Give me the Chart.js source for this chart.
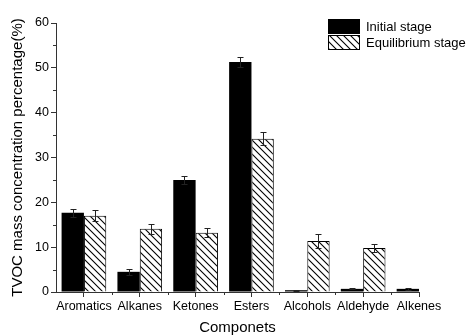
<!DOCTYPE html>
<html>
<head>
<meta charset="utf-8">
<script src="https://cdn.jsdelivr.net/npm/chart.js@4"></script>
<style>
  html, body { margin: 0; padding: 0; background: #fff; }
  #wrap { width: 475px; height: 335px; position: relative; }
</style>
</head>
<body>
<div id="wrap"><canvas id="tvocChart"></canvas></div>
<script>
// ======================================
// DATA
// ======================================
const categories = ['Aromatics', 'Alkanes', 'Ketones', 'Esters', 'Alcohols', 'Aldehyde', 'Alkenes'];
const initialValues = [17.7, 4.5, 25.0, 51.3, 0.4, 0.7, 0.7];
const initialErrors = [0.9, 0.7, 0.9, 1.2, 0.1, 0.1, 0.3];
const equilibriumValues = [17.0, 14.1, 13.2, 34.2, 11.4, 9.8, null];
const equilibriumErrors = [1.2, 1.1, 1.0, 1.5, 1.6, 0.9, 0];
const yTickValues = [0, 10, 20, 30, 40, 50, 60];

// ======================================
// HELPERS
// ======================================
function makeHatch() {
    const size = 7;
    const c = document.createElement('canvas');
    c.width = size; c.height = size;
    const g = c.getContext('2d');
    g.fillStyle = '#fff'; g.fillRect(0, 0, size, size);
    g.strokeStyle = '#000'; g.lineWidth = 1.1;
    g.beginPath();
    g.moveTo(-1, -1); g.lineTo(size + 1, size + 1);
    g.moveTo(-1, size - 1); g.lineTo(1, size + 1);
    g.moveTo(size - 1, -1); g.lineTo(size + 1, 1);
    g.stroke();
    return g.createPattern(c, 'repeat');
}
function toPoints(values) {
    return values.map((v, i) => ({ x: i, y: v }));
}

const hatch = makeHatch();
const axisColor = '#333';
const fontFamily = '"Liberation Sans", Arial, sans-serif';

// error bars
const errorBarPlugin = {
    id: 'errorBars',
    afterDatasetsDraw(chart) {
        const ctx = chart.ctx;
        const yScale = chart.scales.y;
        const errs = [initialErrors, equilibriumErrors];
        ctx.save();
        ctx.strokeStyle = '#222';
        ctx.lineWidth = 1;
        chart.data.datasets.forEach((ds, di) => {
            const meta = chart.getDatasetMeta(di);
            meta.data.forEach((bar, i) => {
                const v = ds.data[i].y;
                const e = errs[di][i];
                if (v == null || !e) return;
                const x = Math.round(bar.x) + 0.5;
                const yTop = Math.round(yScale.getPixelForValue(v + e)) + 0.5;
                const yBot = Math.round(yScale.getPixelForValue(v - e)) + 0.5;
                ctx.beginPath();
                ctx.moveTo(x, yTop); ctx.lineTo(x, yBot);
                ctx.moveTo(x - 3, yTop); ctx.lineTo(x + 3, yTop);
                ctx.moveTo(x - 3, yBot); ctx.lineTo(x + 3, yBot);
                ctx.stroke();
            });
        });
        ctx.restore();
    }
};

// minor ticks + legend
const decorPlugin = {
    id: 'decor',
    afterDraw(chart) {
        const ctx = chart.ctx;
        const xs = chart.scales.x, ys = chart.scales.y;
        ctx.save();
        ctx.strokeStyle = axisColor;
        ctx.lineWidth = 1;
        ctx.beginPath();
        for (let v = 5; v < 60; v += 10) {
            const y = Math.round(ys.getPixelForValue(v)) + 0.5;
            ctx.moveTo(ys.right - 3, y); ctx.lineTo(ys.right, y);
        }
        for (let v = 0.5; v < categories.length - 1; v += 1) {
            const x = Math.round(xs.getPixelForValue(v)) + 0.5;
            ctx.moveTo(x, xs.top); ctx.lineTo(x, xs.top + 3);
        }
        ctx.stroke();

        // legend
        const lx = 328, ly = 19, bw = 32, bh = 15;
        chart.data.datasets.forEach((ds, i) => {
            const y = ly + i * 16;
            ctx.fillStyle = ds.backgroundColor;
            ctx.fillRect(lx, y, bw, bh);
            if (ds.borderWidth) {
                ctx.strokeStyle = '#000';
                ctx.strokeRect(lx + 0.5, y + 0.5, bw - 1, bh - 1);
            }
            ctx.fillStyle = '#000';
            ctx.font = '13px ' + fontFamily;
            ctx.textBaseline = 'middle';
            ctx.textAlign = 'left';
            ctx.fillText(ds.label, lx + bw + 6, y + bh / 2 + 0.5);
        });
        ctx.restore();
    }
};

// ======================================
// CHART
// ======================================
const chartData = {
    datasets: [
        { label: 'Initial stage', data: toPoints(initialValues),
          backgroundColor: '#000', borderWidth: 0 },
        { label: 'Equilibrium stage', data: toPoints(equilibriumValues),
          backgroundColor: hatch, borderColor: '#000', borderWidth: 1 }
    ]
};

const chartOptions = {
    responsive: true, maintainAspectRatio: false, animation: false,
    layout: { padding: { left: 0, right: 56, top: 23, bottom: 0 } },
    datasets: { bar: { categoryPercentage: 0.8, barPercentage: 1.0 } },
    plugins: { legend: { display: false }, tooltip: { enabled: false } },
    scales: {
        x: {
            type: 'linear', min: -0.5, max: categories.length - 1, offset: false,
            grid: { offset: false, drawOnChartArea: false, tickLength: 5, color: axisColor },
            border: { color: axisColor, width: 1 },
            ticks: {
                stepSize: 1, autoSkip: false, maxRotation: 0, padding: 2, color: '#000',
                font: { family: fontFamily, size: 12.5 },
                callback: (v) => Number.isInteger(v) && v >= 0 ? categories[v] : ''
            },
            afterBuildTicks: (s) => { s.ticks = categories.map((c, i) => ({ value: i })); },
            title: { display: true, text: 'Componets', color: '#000',
                     font: { family: fontFamily, size: 15, lineHeight: 1 }, padding: { top: 0, bottom: 0 } },
            afterFit: (s) => { s.height = 43; }
        },
        y: {
            min: 0, max: 60,
            grid: { drawOnChartArea: false, tickLength: 5, color: axisColor },
            border: { color: axisColor, width: 1 },
            ticks: { stepSize: 10, padding: 2, color: '#000',
                     font: { family: fontFamily, size: 12.5 },
                     callback: (v) => yTickValues.includes(v) ? String(v) : '' },
            title: { display: true, text: 'TVOC mass concentration percentage(%)', color: '#000',
                     font: { family: fontFamily, size: 15, lineHeight: 1 }, padding: { top: 10, bottom: 0 } },
            afterFit: (s) => { s.width = 56; }
        }
    }
};

document.addEventListener('DOMContentLoaded', function() {
    const ctx = document.getElementById('tvocChart').getContext('2d');
    new Chart(ctx, { type: 'bar', data: chartData, options: chartOptions, plugins: [errorBarPlugin, decorPlugin] });
});
</script>
</body>
</html>
